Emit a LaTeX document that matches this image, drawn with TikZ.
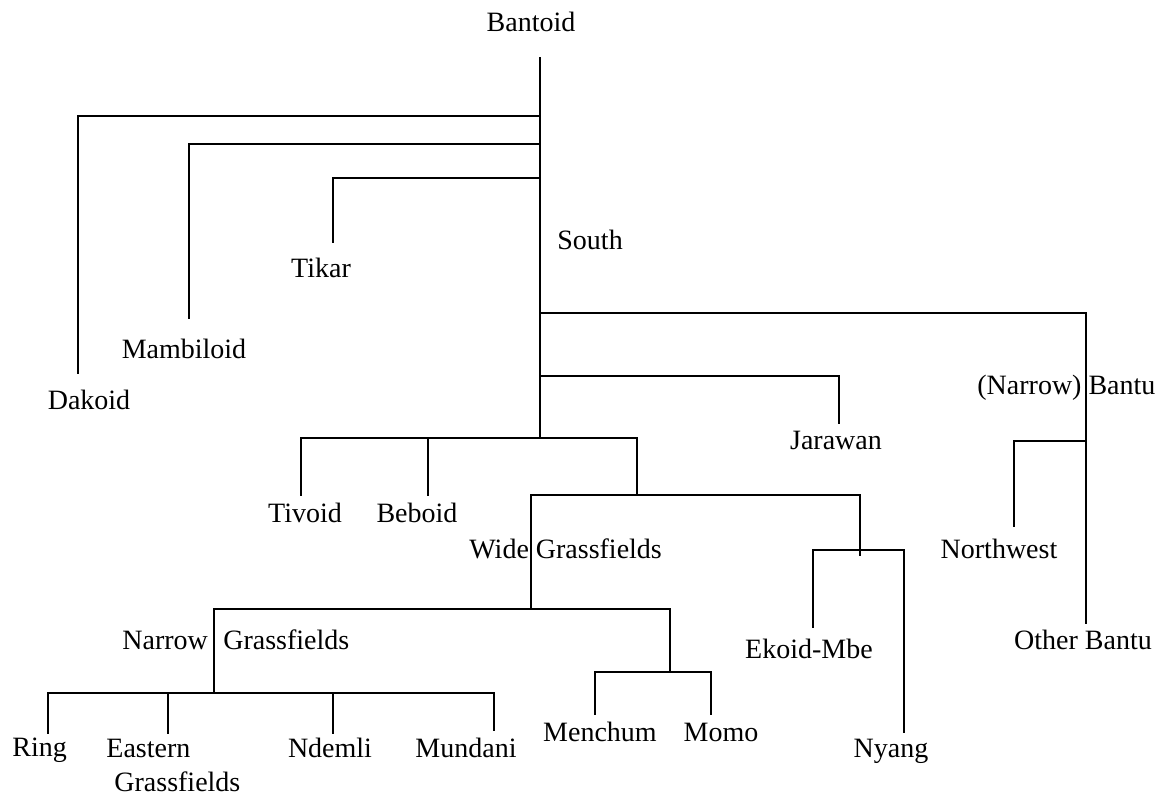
\documentclass[tikz,border=0pt]{standalone}
\usepackage{fontspec}
\setmainfont{Liberation Serif}
\begin{document}
\begin{tikzpicture}[x=0.5pt,y=-0.5pt,
  branch/.style={line width=1pt,line cap=rect},
  lbl/.style={inner sep=0pt,anchor=base,font=\fontsize{14}{17}\selectfont},
  lblw/.style={lbl,anchor=base west}]
\useasboundingbox (0,0) rectangle (1157,793);

% ---- labels ----
\node[lbl]  (bantoid)  at (531,31)  {Bantoid};
\node[lblw] (south)    at (557,249) {South};
\node[lbl]  (tikar)    at (321,277) {Tikar};
\node[lbl]  (mambi)    at (184,358) {Mambiloid};
\node[lbl]  (dakoid)   at (89,409)  {Dakoid};
\node[lblw] (bantu)    at (977,394) {(Narrow) Bantu};
\node[lbl]  (jarawan)  at (836,449) {Jarawan};
\node[lbl]  (tivoid)   at (305,522) {Tivoid};
\node[lbl]  (beboid)   at (417,522) {Beboid};
\node[lblw] (widegf)   at (469,558) {Wide Grassfields};
\node[lbl]  (northw)   at (999,558) {Northwest};
\node[lblw] (narrowgf) at (122,649) {Narrow\hspace{0.55em}Grassfields};
\node[lbl]  (ekoid)    at (809,658) {Ekoid-Mbe};
\node[lbl]  (other)    at (1083,649) {Other Bantu};
\node[lbl]  (menchum)  at (600,741) {Menchum};
\node[lbl]  (momo)     at (721,741) {Momo};
\node[lblw] (ring)     at (12,756)  {Ring};
% two-line label: the base anchor sits on its last line
\node[lblw,align=left] (eastern) at (106,791) {Eastern\\\hspace*{4pt}Grassfields};
\node[lbl]  (ndemli)   at (330,757) {Ndemli};
\node[lbl]  (mundani)  at (466,757) {Mundani};
\node[lbl]  (nyang)    at (891,757) {Nyang};

% ---- junctions and branch ends ----
\coordinate (top)    at (540,58);
\coordinate (jdak)   at (540,116);
\coordinate (jmam)   at (540,144);
\coordinate (jtik)   at (540,178);
\coordinate (jban)   at (540,313);
\coordinate (jjar)   at (540,376);
\coordinate (jsouth) at (540,438);
\coordinate (edak)   at (78,373);
\coordinate (emam)   at (189,318);
\coordinate (etik)   at (333,242);
\coordinate (eban)   at (1086,623);
\coordinate (jnw)    at (1086,441);
\coordinate (enw)    at (1014,526);
\coordinate (ejar)   at (839,423);
% Tivoid / Beboid / rest
\coordinate (btivL)  at (301,438);
\coordinate (btivR)  at (637,438);
\coordinate (etiv)   at (301,495);
\coordinate (jbeb)   at (428,438);
\coordinate (ebeb)   at (428,495);
\coordinate (jrest)  at (637,495);
% Wide Grassfields vs Ekoid-Mbe/Nyang
\coordinate (bwgL)   at (531,495);
\coordinate (bwgR)   at (860,495);
\coordinate (jek)    at (860,555);
\coordinate (bekL)   at (813,550);
\coordinate (bekR)   at (904,550);
\coordinate (eek)    at (813,627);
\coordinate (eny)    at (904,732);
\coordinate (jwg)    at (531,609);
% Narrow Grassfields vs Menchum/Momo
\coordinate (bngL)   at (214,609);
\coordinate (bngR)   at (670,609);
\coordinate (jmm)    at (670,672);
\coordinate (bmmL)   at (595,672);
\coordinate (bmmR)   at (711,672);
\coordinate (emen)   at (595,714);
\coordinate (emom)   at (711,714);
\coordinate (jng)    at (214,693);
% Narrow Grassfields daughters
\coordinate (bngdL)  at (48,693);
\coordinate (bngdR)  at (494,693);
\coordinate (ering)  at (48,733);
\coordinate (jeas)   at (168,695);
\coordinate (eeas)   at (168,733);
\coordinate (jnde)   at (333,695);
\coordinate (ende)   at (333,733);
\coordinate (emun)   at (494,730);

% ---- branches ----
\draw[branch] (top) -- (jsouth);
\draw[branch] (jdak) -| (edak);
\draw[branch] (jmam) -| (emam);
\draw[branch] (jtik) -| (etik);
\draw[branch] (jban) -| (eban);
\draw[branch] (jnw) -| (enw);
\draw[branch] (jjar) -| (ejar);

\draw[branch] (etiv) -- (btivL) -- (btivR) -- (jrest);
\draw[branch] (jbeb) -- (ebeb);

\draw[branch] (jwg) -- (bwgL) -- (bwgR) -- (jek);
\draw[branch] (eek) -- (bekL) -- (bekR) -- (eny);

\draw[branch] (jng) -- (bngL) -- (bngR) -- (jmm);
\draw[branch] (emen) -- (bmmL) -- (bmmR) -- (emom);

\draw[branch] (ering) -- (bngdL) -- (bngdR) -- (emun);
\draw[branch] (jeas) -- (eeas);
\draw[branch] (jnde) -- (ende);
\end{tikzpicture}
\end{document}
